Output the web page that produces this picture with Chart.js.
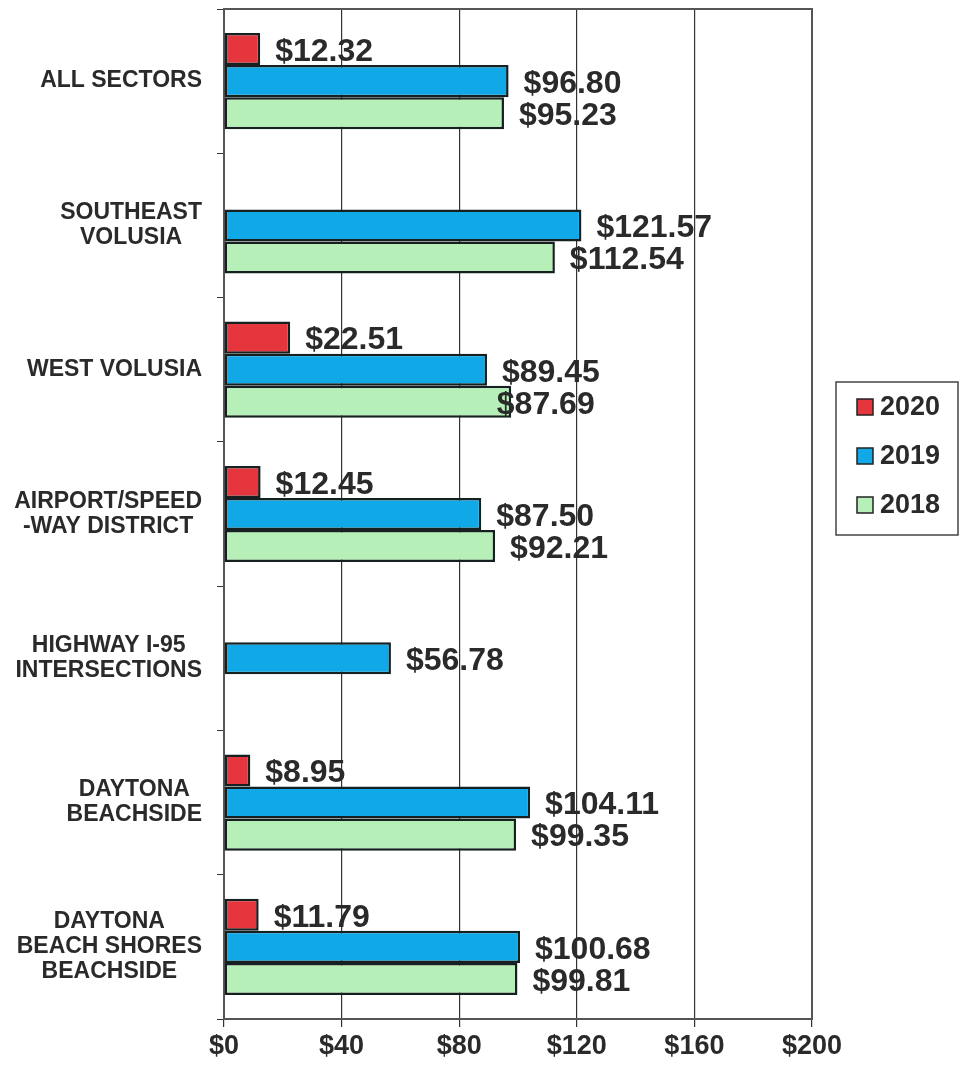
<!DOCTYPE html>
<html>
<head>
<meta charset="utf-8">
<script src="https://cdn.jsdelivr.net/npm/chart.js@4.4.1/dist/chart.umd.min.js"></script>
<style>
  body { margin: 0; background: #fff; }
  #wrap { width: 962px; height: 1065px; position: relative; }
</style>
</head>
<body>
<div id="wrap"><canvas id="myChart"></canvas></div>
<script>
// categories, one array of lines per label
var categories = [
    ['ALL SECTORS'],
    ['SOUTHEAST', 'VOLUSIA'],
    ['WEST VOLUSIA'],
    ['AIRPORT/SPEED', '-WAY DISTRICT'],
    ['HIGHWAY I-95', 'INTERSECTIONS'],
    ['DAYTONA', 'BEACHSIDE'],
    ['DAYTONA', 'BEACH SHORES', 'BEACHSIDE']
];
var seriesNames = ['2020', '2019', '2018'];
var values2020 = [12.32, null, 22.51, 12.45, null, 8.95, 11.79];
var values2019 = [96.80, 121.57, 89.45, 87.50, 56.78, 104.11, 100.68];
var values2018 = [95.23, 112.54, 97.69, 92.21, null, 99.35, 99.81];
// what is printed next to the 2018 bars (west volusia bar is drawn longer than its label)
var printed2018 = [95.23, 112.54, 87.69, 92.21, null, 99.35, 99.81];
var xTicks = [0, 40, 80, 120, 160, 200];

var fontFam = '"Liberation Sans", Arial, Helvetica, sans-serif';
var textColor = '#2a2a2a';

// box around the plot area
var frame = {
    id: 'frame',
    beforeDatasetsDraw: function (chart) {
        var a = chart.chartArea, ctx = chart.ctx;
        ctx.save();
        ctx.strokeStyle = '#555';
        ctx.lineWidth = 2;
        ctx.strokeRect(a.left, a.top, a.right - a.left, a.bottom - a.top);
        ctx.restore();
    }
};

// category names: block right aligned, lines centred inside it
var catLabels = {
    id: 'catLabels',
    afterDraw: function (chart) {
        var ctx = chart.ctx, y = chart.scales.y;
        ctx.save();
        ctx.font = 'bold 23px ' + fontFam;
        ctx.fillStyle = textColor;
        ctx.textAlign = 'center';
        ctx.textBaseline = 'middle';
        chart.data.labels.forEach(function (lines, i) {
            var w = 0;
            lines.forEach(function (t) { w = Math.max(w, ctx.measureText(t).width); });
            var cx = y.right - 22 - w / 2;
            var cy = y.getPixelForTick(i);
            lines.forEach(function (t, j) {
                ctx.fillText(t, cx, cy + (j - (lines.length - 1) / 2) * 25);
            });
        });
        ctx.restore();
    }
};

// $ value next to each bar
var valueLabels = {
    id: 'valueLabels',
    afterDatasetsDraw: function (chart) {
        var ctx = chart.ctx, x = chart.scales.x;
        ctx.save();
        ctx.font = 'bold 32px ' + fontFam;
        ctx.fillStyle = textColor;
        ctx.textBaseline = 'middle';
        chart.data.datasets.forEach(function (ds, i) {
            var meta = chart.getDatasetMeta(i);
            var shown = ds.printed || ds.data;
            meta.data.forEach(function (bar, j) {
                if (shown[j] == null) return;
                ctx.fillText('$' + shown[j].toFixed(2), x.getPixelForValue(shown[j]) + 15, bar.y + 3);
            });
        });
        ctx.restore();
    }
};

// boxed legend on the right
var boxLegend = {
    id: 'boxLegend',
    afterDraw: function (chart) {
        var ctx = chart.ctx, a = chart.chartArea;
        var left = a.right + 24, top = 382;
        ctx.save();
        ctx.strokeStyle = '#444';
        ctx.lineWidth = 1.5;
        ctx.strokeRect(left, top, 122, 153);
        ctx.font = 'bold 27px ' + fontFam;
        ctx.textBaseline = 'middle';
        chart.data.datasets.forEach(function (ds, i) {
            var cy = top + 25 + i * 49;
            ctx.fillStyle = ds.backgroundColor;
            ctx.fillRect(left + 21, cy - 8, 16, 16);
            ctx.strokeStyle = '#222';
            ctx.strokeRect(left + 21, cy - 8, 16, 16);
            ctx.fillStyle = textColor;
            ctx.fillText(ds.label, left + 44, cy + 1);
        });
        ctx.restore();
    }
};

var ctx = document.getElementById('myChart');
var myChart = new Chart(ctx, {
    type: 'bar',
    data: {
        labels: categories,
        datasets: [
            { label: seriesNames[0], data: values2020, backgroundColor: '#e5363e' },
            { label: seriesNames[1], data: values2019, backgroundColor: '#10a8e6' },
            { label: seriesNames[2], data: values2018, printed: printed2018, backgroundColor: '#b6f0b8' }
        ]
    },
    options: {
        indexAxis: 'y',
        responsive: true,
        maintainAspectRatio: false,
        animation: false,
        layout: { padding: { top: 9, right: 150, left: 0, bottom: 0 } },
        datasets: {
            bar: {
                categoryPercentage: 0.667,
                barPercentage: 1,
                borderWidth: 2.5,
                borderColor: '#162020',
                borderSkipped: false
            }
        },
        plugins: {
            legend: { display: false },
            tooltip: { enabled: false }
        },
        scales: {
            x: {
                min: xTicks[0],
                max: xTicks[xTicks.length - 1],
                ticks: {
                    stepSize: xTicks[1] - xTicks[0],
                    callback: function (v) { return '$' + v; },
                    font: { family: fontFam, size: 27, weight: 'bold' },
                    color: textColor,
                    padding: 3
                },
                grid: { color: '#333', lineWidth: 1.2, tickLength: 8 },
                border: { color: '#333', width: 2 },
                afterFit: function (s) { s.height = 46; }
            },
            y: {
                ticks: { display: false },
                grid: { drawOnChartArea: false, tickLength: 7, color: '#333', offset: true },
                border: { color: '#111', width: 2 },
                afterFit: function (s) { s.width = 224; }
            }
        }
    },
    plugins: [frame, catLabels, valueLabels, boxLegend]
});
</script>
</body>
</html>
